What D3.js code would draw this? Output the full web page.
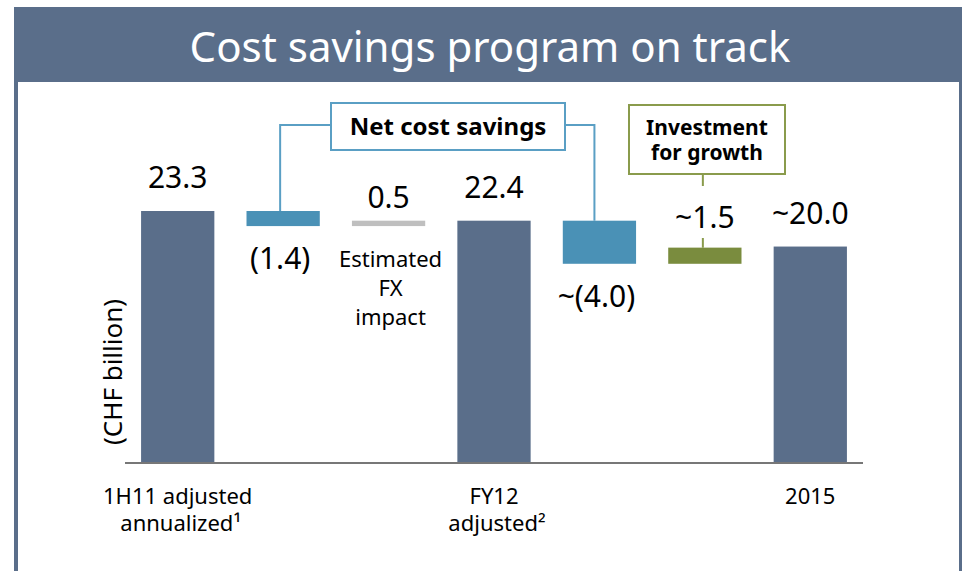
<!DOCTYPE html>
<html>
<head>
<meta charset="utf-8">
<script src="https://cdnjs.cloudflare.com/ajax/libs/d3/7.8.5/d3.min.js"></script>
<style>
  body { margin: 0; background: #fff; }
  svg text { font-family: "Noto Sans", "Open Sans", sans-serif; fill: #000; }
</style>
</head>
<body>
<svg id="chart" width="963" height="571"></svg>
<script>
// waterfall steps
var steps = ["1H11", "net1", "fx", "FY12", "net2", "invest", "2015"];
var stepValues = [23.3, -1.4, 0.5, 22.4, -4.0, 1.5, 20.0];
var stepKinds = ["total", "saving", "fx", "total", "saving", "invest", "total"];
var valueLabels = ["23.3", "(1.4)", "0.5", "22.4", "~(4.0)", "~1.5", "~20.0"];
// category labels under the axis (one entry per line)
var catLabels = [
  ["1H11 adjusted", "annualized\u00b9"],
  null, null,
  ["FY12", "adjusted\u00b2"],
  null, null,
  ["2015"]
];
var fxNote = ["Estimated", "FX", "impact"];

var colors = { total: "#5a6e8a", saving: "#4a91b6", fx: "#bfbfbf", invest: "#7a8c3e" };

var svg = d3.select("#chart");
var W = 963, H = 571;

// frame + title banner
svg.append("rect").attr("x", 14).attr("y", 7).attr("width", 948).attr("height", 75).attr("fill", "#5a6e8a");
svg.append("rect").attr("x", 14).attr("y", 7).attr("width", 4).attr("height", H).attr("fill", "#5a6e8a");
svg.append("rect").attr("x", 959).attr("y", 7).attr("width", 3).attr("height", H).attr("fill", "#5a6e8a");
svg.append("text")
  .attr("x", 490).attr("y", 62)
  .attr("text-anchor", "middle")
  .style("font-size", "42px")
  .style("fill", "#fff")
  .text("Cost savings program on track");

// compute waterfall
var running = 0;
var bars = steps.map(function (s, i) {
  var v = stepValues[i], lo, hi;
  if (stepKinds[i] === "total") {
    lo = 0; hi = v; running = v;
  } else {
    var next = running + v;
    lo = Math.min(running, next); hi = Math.max(running, next);
    running = next;
  }
  return { key: s, kind: stepKinds[i], value: v, lo: lo, hi: hi, label: valueLabels[i], i: i };
});

var baseY = 462;
var x = d3.scaleBand().domain(steps).range([125, 863]).paddingInner(0.305).paddingOuter(0.1525);
var y = d3.scaleLinear().domain([0, 23.3]).range([baseY, 211]);

// bars
svg.selectAll("rect.bar")
  .data(bars)
  .enter().append("rect")
  .attr("class", "bar")
  .attr("x", function (d) { return x(d.key); })
  .attr("y", function (d) { return y(d.hi); })
  .attr("width", x.bandwidth())
  .attr("height", function (d) { return y(d.lo) - y(d.hi); })
  .attr("fill", function (d) { return colors[d.kind]; });

// baseline
svg.append("line")
  .attr("x1", 125).attr("x2", 863)
  .attr("y1", baseY + 1).attr("y2", baseY + 1)
  .attr("stroke", "#777").attr("stroke-width", 2);

// value labels
svg.selectAll("text.val")
  .data(bars)
  .enter().append("text")
  .attr("class", "val")
  .attr("text-anchor", "middle")
  .style("font-size", "30px")
  .attr("x", function (d) {
    var c = x(d.key) + x.bandwidth() / 2;
    return d.kind === "saving" ? c - 3 : c;
  })
  .attr("y", function (d) {
    if (d.kind === "saving") return y(d.lo) + 43;
    if (d.kind === "fx") return y(d.hi) - 13;
    if (d.kind === "invest") return y(d.hi) - 20;
    return y(d.hi) - 23;
  })
  .text(function (d) { return d.label; });

// FX note under the grey bar
var fxBar = bars[2];
svg.append("text")
  .attr("text-anchor", "middle")
  .style("font-size", "22px")
  .selectAll("tspan")
  .data(fxNote)
  .enter().append("tspan")
  .attr("x", x(fxBar.key) + x.bandwidth() / 2 + 2)
  .attr("y", function (d, i) { return y(fxBar.lo) + 41 + i * 29; })
  .text(function (d) { return d; });

// category labels
bars.forEach(function (d, i) {
  var lab = catLabels[i];
  if (!lab) return;
  var cx = x(d.key) + x.bandwidth() / 2;
  svg.append("text")
    .attr("text-anchor", "middle")
    .style("font-size", "22px")
    .selectAll("tspan")
    .data(lab)
    .enter().append("tspan")
    .attr("x", function (s, j) { return j ? cx + 3 : cx; })
    .attr("y", function (s, j) { return 504 + j * 27; })
    .text(function (s) { return s; });
});

// y axis title
svg.append("text")
  .attr("transform", "translate(122,372) rotate(-90)")
  .attr("text-anchor", "middle")
  .style("font-size", "26px")
  .text("(CHF billion)");

// "Net cost savings" callout
var b1 = bars[1], b4 = bars[4];
var lx1 = x(b1.key) + x.bandwidth() / 2 - 3;
var lx2 = x(b4.key) + x.bandwidth() / 2 - 5;
var boxBlue = "#5a9fc4";
svg.append("path")
  .attr("d", "M" + lx1 + "," + y(b1.hi) + "V125H331M565,125H" + lx2 + "V" + y(b4.hi))
  .attr("fill", "none").attr("stroke", boxBlue).attr("stroke-width", 2);
svg.append("rect")
  .attr("x", 331).attr("y", 103).attr("width", 234).attr("height", 47)
  .attr("fill", "#fff").attr("stroke", boxBlue).attr("stroke-width", 2);
svg.append("text")
  .attr("x", 448).attr("y", 135)
  .attr("text-anchor", "middle")
  .style("font-size", "24px").style("font-weight", "bold")
  .text("Net cost savings");

// "Investment for growth" callout
var b5 = bars[5];
var gx = x(b5.key) + x.bandwidth() / 2 - 2;
var boxGreen = "#8a9b4c";
svg.append("path")
  .attr("d", "M" + gx + ",174V186M" + gx + ",238V" + y(b5.hi))
  .attr("fill", "none").attr("stroke", boxGreen).attr("stroke-width", 2);
svg.append("rect")
  .attr("x", 629).attr("y", 105).attr("width", 156).attr("height", 69)
  .attr("fill", "#fff").attr("stroke", boxGreen).attr("stroke-width", 2);
svg.append("text")
  .attr("text-anchor", "middle")
  .style("font-size", "21px").style("font-weight", "bold")
  .selectAll("tspan")
  .data(["Investment", "for growth"])
  .enter().append("tspan")
  .attr("x", 707)
  .attr("y", function (d, i) { return 135 + i * 25; })
  .text(function (d) { return d; });
</script>
</body>
</html>
